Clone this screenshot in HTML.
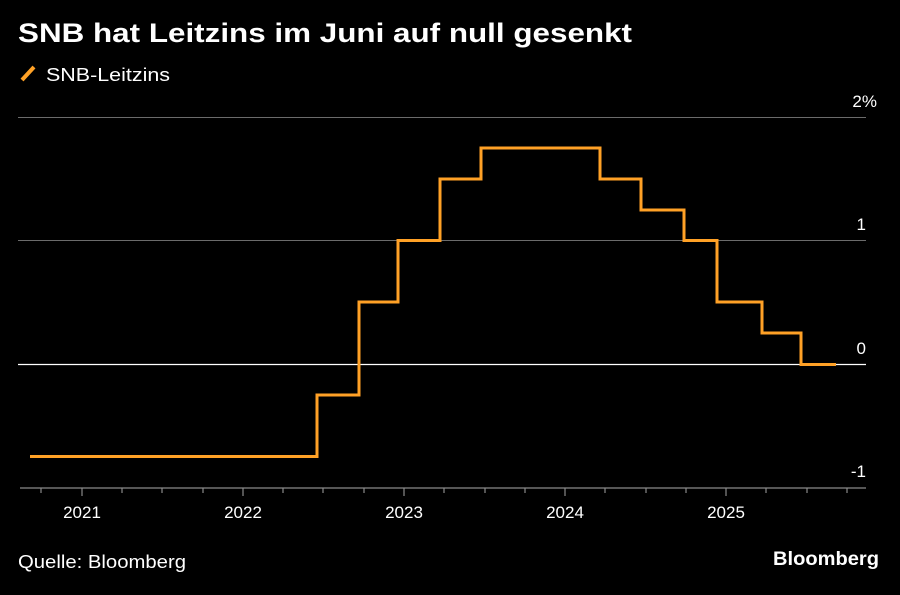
<!DOCTYPE html>
<html><head><meta charset="utf-8"><style>
body{margin:0;background:#000;width:900px;height:590px;overflow:hidden;font-family:"Liberation Sans",sans-serif;}
</style></head><body>
<svg width="900" height="590" xmlns="http://www.w3.org/2000/svg" font-family="Liberation Sans, sans-serif">
<rect width="900" height="590" fill="#000"/>
<text x="18" y="42" fill="#fff" font-size="27" font-weight="bold" textLength="614" lengthAdjust="spacingAndGlyphs">SNB hat Leitzins im Juni auf null gesenkt</text>
<line x1="22" y1="80" x2="34" y2="67" stroke="#ffa126" stroke-width="4"/>
<text x="46" y="81" fill="#fff" font-size="18" textLength="124" lengthAdjust="spacingAndGlyphs">SNB-Leitzins</text>
<g stroke="#6b6b6b" stroke-width="1">
<line x1="18" y1="117.5" x2="866" y2="117.5"/>
<line x1="18" y1="240.5" x2="866" y2="240.5"/>
</g>
<line x1="18" y1="364.5" x2="866" y2="364.5" stroke="#fff" stroke-width="1.2"/>
<line x1="20" y1="488" x2="866" y2="488" stroke="#8a8a8a" stroke-width="1.2"/>
<g stroke="#8a8a8a" stroke-width="1.2">
<line x1="41" y1="488" x2="41" y2="493"/>
<line x1="82" y1="488" x2="82" y2="496"/>
<line x1="122" y1="488" x2="122" y2="493"/>
<line x1="162" y1="488" x2="162" y2="493"/>
<line x1="203" y1="488" x2="203" y2="493"/>
<line x1="243" y1="488" x2="243" y2="496"/>
<line x1="283" y1="488" x2="283" y2="493"/>
<line x1="323" y1="488" x2="323" y2="493"/>
<line x1="364" y1="488" x2="364" y2="493"/>
<line x1="404" y1="488" x2="404" y2="496"/>
<line x1="444" y1="488" x2="444" y2="493"/>
<line x1="485" y1="488" x2="485" y2="493"/>
<line x1="525" y1="488" x2="525" y2="493"/>
<line x1="565" y1="488" x2="565" y2="496"/>
<line x1="605" y1="488" x2="605" y2="493"/>
<line x1="646" y1="488" x2="646" y2="493"/>
<line x1="686" y1="488" x2="686" y2="493"/>
<line x1="726" y1="488" x2="726" y2="496"/>
<line x1="766" y1="488" x2="766" y2="493"/>
<line x1="807" y1="488" x2="807" y2="493"/>
<line x1="847" y1="488" x2="847" y2="493"/>
</g>
<g fill="#fff" font-size="17" text-anchor="middle">
<text x="82" y="518">2021</text>
<text x="243" y="518">2022</text>
<text x="404" y="518">2023</text>
<text x="565" y="518">2024</text>
<text x="726" y="518">2025</text>
</g>
<g fill="#fff" font-size="17" text-anchor="end">
<text x="877" y="107">2%</text>
<text x="866" y="230">1</text>
<text x="866" y="354">0</text>
<text x="866" y="477">-1</text>
</g>
<polyline fill="none" stroke="#ffa126" stroke-width="3" stroke-linejoin="miter"
points="30,456.5 317,456.5 317,395 359,395 359,302 398,302 398,240.5 440,240.5 440,179 481,179 481,148 600,148 600,179 641,179 641,210 684,210 684,240.5 717,240.5 717,302 762,302 762,333 801,333 801,364.5 836,364.5"/>
<text x="18" y="568" fill="#fff" font-size="18" textLength="168" lengthAdjust="spacingAndGlyphs">Quelle: Bloomberg</text>
<text x="879" y="565" fill="#fff" font-size="19" font-weight="bold" text-anchor="end" textLength="106" lengthAdjust="spacingAndGlyphs">Bloomberg</text>
</svg>
</body></html>
